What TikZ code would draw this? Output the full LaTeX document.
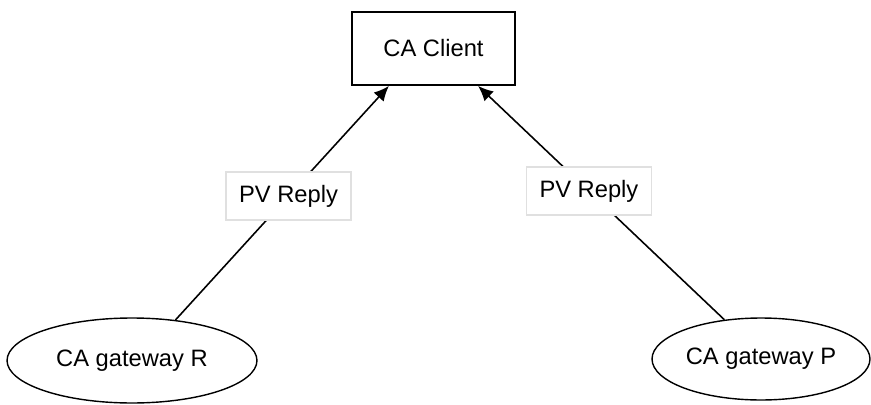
\documentclass[tikz,border=0pt]{standalone}
\usepackage{fontspec}
\setmainfont{Liberation Sans}
\usetikzlibrary{shapes.geometric,arrows.meta}
\begin{document}
\begin{tikzpicture}
			[x=0.02cm,y=-0.02cm,
			font=\fontsize{13.5}{16}\selectfont,
			client/.style={rectangle,draw,line width=1.1pt,minimum width=3.26cm,minimum height=1.46cm},
			gateway/.style={ellipse,draw,line width=0.8pt,inner sep=0pt},
			replylabel/.style={rectangle,draw=black!12,fill=white,minimum width=2.5cm,minimum height=0.96cm,inner sep=0pt},
			reply/.style={draw,line width=0.9pt,-{Latex[length=3mm,width=2.7mm]}}]
			\useasboundingbox (0,0) rectangle (871,405);
			\path node (client) at (433.5,48.5) [client] {CA Client}
				  node (gwR) at (132,360.5) [gateway,minimum width=5cm,minimum height=1.7cm] {CA gateway R}
				  node (gwP) at (761,359) [gateway,minimum width=4.36cm,minimum height=1.64cm] {CA gateway P};
			\draw[reply] (gwR.43) -- node[replylabel,pos=0.53] {PV Reply} (client.220);
			\draw[reply] (gwP.133) -- node[replylabel,pos=0.55] {PV Reply} (client.320);
		\end{tikzpicture}
\end{document}
